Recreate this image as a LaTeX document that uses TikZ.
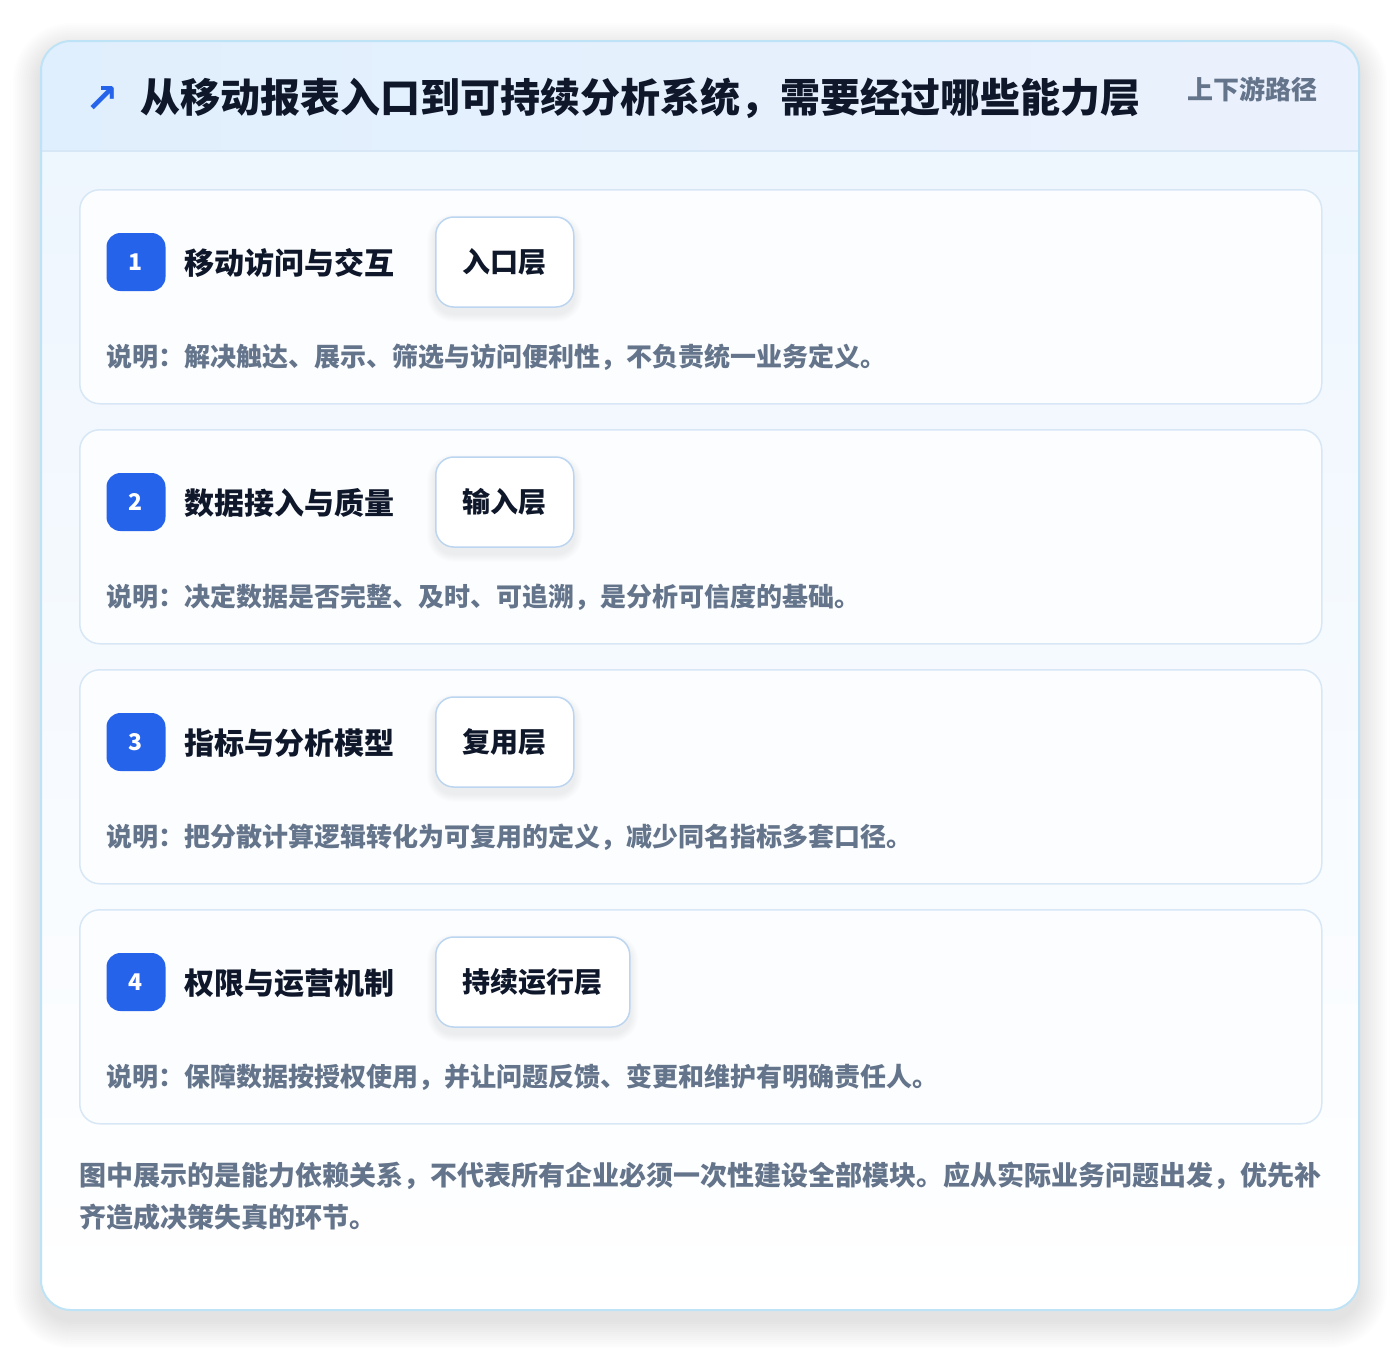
\documentclass[tikz,border=0pt]{standalone}
\usepackage{fontspec}
\setmainfont{Noto Sans CJK SC}
\newfontfamily\symfont{DejaVu Sans}

\definecolor{ink}{HTML}{0F172A}
\definecolor{slate}{HTML}{64748B}
\definecolor{brand}{HTML}{2563EB}
\definecolor{frame}{HTML}{BEE3F6}
\definecolor{cardline}{HTML}{D8E7F5}
\definecolor{pillline}{HTML}{BCD5F0}
\definecolor{headl}{HTML}{E0EFFD}
\definecolor{headr}{HTML}{EBF1FD}
\definecolor{paneltop}{HTML}{EEF6FE}
\definecolor{cardfill}{HTML}{FBFDFF}
\definecolor{shade}{HTML}{3A3F47}

\newcommand{\pxfont}[1]{\fontsize{#1}{#1}\selectfont}

\tikzset{
  layerbox/.style={draw=cardline, line width=1.5pt, fill=cardfill, rounded corners=20pt,
    minimum width=1242pt, minimum height=214pt, anchor=north west, inner sep=0pt},
  badge/.style={fill=brand, rounded corners=14pt, minimum width=59pt, minimum height=58pt,
    inner sep=0pt, text=white, font=\bfseries\pxfont{23}},
  layername/.style={anchor=west, inner sep=0pt, text=ink, font=\bfseries\pxfont{30}},
  tag/.style={draw=pillline, line width=1.5pt, fill=white, rounded corners=18pt,
    minimum height=90pt, inner xsep=27pt, anchor=west, text=ink, font=\bfseries\pxfont{28}},
  note/.style={anchor=west, inner sep=0pt, text=slate, font=\bfseries\pxfont{26}},
  haze/.style={fill=shade, fill opacity=#1, draw=none},
}

% soft shadow under a tag node
\newcommand{\tagshadow}[1]{%
  \foreach \s in {1,...,8}
    \fill[haze=0.006, rounded corners=18pt+\s pt]
      ([xshift=-\s pt, yshift=-6pt+\s pt]#1.north west) rectangle ([xshift=\s pt, yshift=-6pt-\s pt]#1.south east);
}

\begin{document}
\begin{tikzpicture}[x=1pt, y=-1pt]

            \useasboundingbox (0,0) rectangle (1400,1352);
            \fill[white] (0,0) rectangle (1400,1352);

            % outer panel and its shadow
            \foreach \s in {1,...,14}
                \fill[haze=0.009, rounded corners=30pt+2*\s pt] (41-2*\s,41-2*\s+10) rectangle (1359+2*\s,1310+2*\s+10);
            \begin{scope}
                \clip[rounded corners=30pt] (41,41) rectangle (1359,1310);
                \fill[top color=paneltop, bottom color=white] (41,151) rectangle (1359,1310);
                \fill[left color=headl, right color=headr] (41,41) rectangle (1359,151);
                \draw[cardline, line width=1.5pt] (41,151) -- (1359,151);
            \end{scope}
            \draw[frame, line width=2pt, rounded corners=30pt] (41,41) rectangle (1359,1310);

            % header
            \node[text=brand, font=\symfont\bfseries\pxfont{40}] (arrow) at (102,99) {↗};
            \node[layername, text=ink, font=\bfseries\pxfont{40}] (title) at (140,98) {从移动报表入口到可持续分析系统，需要经过哪些能力层};
            \node[anchor=east, inner sep=0pt, text=slate, font=\bfseries\pxfont{26}] (path) at (1318,89) {上下游路径};

            % layer 1
            \node[layerbox] (L1) at (79,189) {};
            \node[badge] (B1) at (136,262) {1};
            \node[layername] (N1) at (184,263) {移动访问与交互};
            \path (435,262) coordinate (P1);
            \node[tag, opacity=0] (S1) at (P1) {入口层};
            \tagshadow{S1}
            \node[tag] (T1) at (P1) {入口层};
            \node[note] (D1) at (106,357) {说明：解决触达、展示、筛选与访问便利性，不负责统一业务定义。};

            % layer 2
            \node[layerbox] (L2) at (79,429) {};
            \node[badge] (B2) at (136,502) {2};
            \node[layername] (N2) at (184,503) {数据接入与质量};
            \path (435,502) coordinate (P2);
            \node[tag, opacity=0] (S2) at (P2) {输入层};
            \tagshadow{S2}
            \node[tag] (T2) at (P2) {输入层};
            \node[note] (D2) at (106,597) {说明：决定数据是否完整、及时、可追溯，是分析可信度的基础。};

            % layer 3
            \node[layerbox] (L3) at (79,669) {};
            \node[badge] (B3) at (136,742) {3};
            \node[layername] (N3) at (184,743) {指标与分析模型};
            \path (435,742) coordinate (P3);
            \node[tag, opacity=0] (S3) at (P3) {复用层};
            \tagshadow{S3}
            \node[tag] (T3) at (P3) {复用层};
            \node[note] (D3) at (106,837) {说明：把分散计算逻辑转化为可复用的定义，减少同名指标多套口径。};

            % layer 4
            \node[layerbox] (L4) at (79,909) {};
            \node[badge] (B4) at (136,982) {4};
            \node[layername] (N4) at (184,983) {权限与运营机制};
            \path (435,982) coordinate (P4);
            \node[tag, opacity=0] (S4) at (P4) {持续运行层};
            \tagshadow{S4}
            \node[tag] (T4) at (P4) {持续运行层};
            \node[note] (D4) at (106,1077) {说明：保障数据按授权使用，并让问题反馈、变更和维护有明确责任人。};

            % footnote
            \node[anchor=north west, inner sep=0pt, text=slate, font=\bfseries\pxfont{27},
                align=left, execute at begin node={\baselineskip=42pt}] (foot) at (79,1162)
                {图中展示的是能力依赖关系，不代表所有企业必须一次性建设全部模块。应从实际业务问题出发，优先补\\齐造成决策失真的环节。};

\end{tikzpicture}
\end{document}
